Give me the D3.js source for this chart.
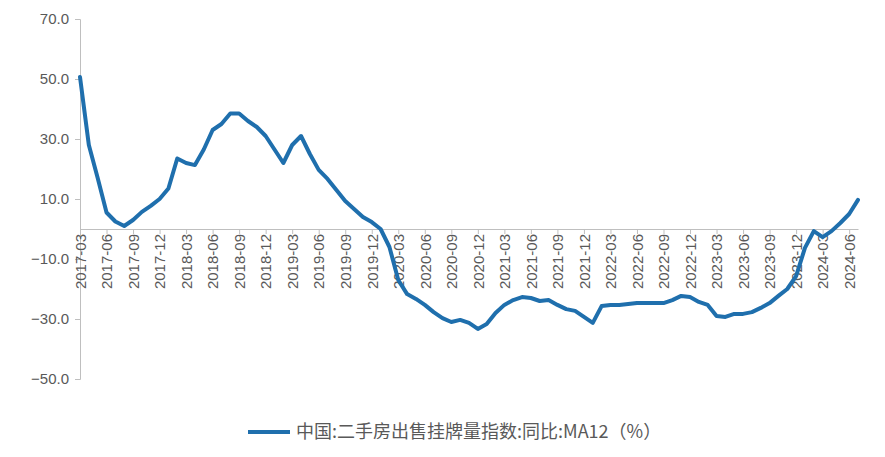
<!DOCTYPE html>
<html>
<head>
<meta charset="utf-8">
<script src="https://cdn.jsdelivr.net/npm/d3@7"></script>
<style>
  body { margin: 0; background: #fff; }
  text { font-family: "Liberation Sans", Arial, sans-serif; fill: #595959; }
</style>
</head>
<body>
<svg id="chart" width="885" height="457"></svg>
<script>
// Données
const months = [];
for (let y = 2017; y <= 2024; y++) {
  for (let m = 1; m <= 12; m++) {
    if ((y === 2017 && m < 3) || (y === 2024 && m > 7)) continue;
    months.push(y + "-" + String(m).padStart(2, "0"));
  }
}
const values = [
  50.7, 28, 17, 5.5, 2.5, 1, 3, 5.7, 7.7, 10,
  13.5, 23.5, 22, 21.3, 26.5, 33, 35, 38.5, 38.5, 36, 34, 31,
  26.5, 22, 28, 31, 25, 19.7, 16.7, 13, 9.3, 6.7, 4, 2.3,
  0, -6, -17, -21.7, -23.3, -25.3, -27.7, -29.7, -31, -30.3, -31.3, -33.3,
  -31.7, -28, -25.3, -23.7, -22.7, -23, -24, -23.7, -25.3, -26.7, -27.3, -29.3,
  -31.3, -25.7, -25.3, -25.3, -25, -24.7, -24.7, -24.7, -24.7, -23.7, -22.3, -22.7,
  -24.3, -25.3, -29, -29.3, -28.3, -28.3, -27.7, -26.3, -24.7, -22.3, -20, -15.7,
  -6.3, -0.7, -2.7, -0.7, 2, 5, 9.7
];
const yTicks = [70, 50, 30, 10, -10, -30, -50];
const seriesName = "中国:二手房出售挂牌量指数:同比:MA12（%）";

const svg = d3.select("#chart");
const x = d3.scalePoint().domain(months).range([80, 858]);
const y = d3.scaleLinear().domain([-50, 70]).range([379, 19]);
const grey = "#bfbfbf";

// Axe Y
const yAxis = svg.append("g")
  .attr("transform", "translate(80,0)")
  .call(d3.axisLeft(y).tickValues(yTicks).tickFormat(d3.format(".1f")).tickSize(5).tickPadding(6));
yAxis.select(".domain").attr("stroke", grey);
yAxis.selectAll(".tick line").attr("stroke", grey);
yAxis.selectAll("text").style("font-size", "15px").attr("fill", "#595959");

// Axe X (à zéro)
const quarterLabels = months.filter(d => ["03", "06", "09", "12"].includes(d.slice(5)));
const xAxis = svg.append("g")
  .attr("transform", `translate(0,${y(0)})`)
  .call(d3.axisBottom(x).tickValues(quarterLabels).tickSize(5).tickSizeOuter(0));
xAxis.select(".domain").attr("stroke", grey);
xAxis.selectAll(".tick line").attr("stroke", grey);
xAxis.selectAll("text")
  .style("font-size", "15px")
  .attr("fill", "#595959")
  .attr("transform", "rotate(-90)")
  .attr("text-anchor", "end")
  .attr("x", -5)
  .attr("y", 0)
  .attr("dy", "0.35em");

// Ligne
svg.append("path")
  .datum(values)
  .attr("fill", "none")
  .attr("stroke", "#1f6fad")
  .attr("stroke-width", 4)
  .attr("stroke-linejoin", "round")
  .attr("stroke-linecap", "round")
  .attr("d", d3.line().x((d, i) => x(months[i])).y(d => y(d)));

// Légende
const lg = svg.append("g").attr("transform", "translate(248,432)");
lg.append("line").attr("x1", 0).attr("x2", 42).attr("stroke", "#1f6fad").attr("stroke-width", 4);
lg.append("text").attr("x", 48).attr("dy", "0.35em").style("font-size", "18px")
  .style("font-family", "'Noto Sans CJK SC', sans-serif").text(seriesName);
</script>
</body>
</html>
